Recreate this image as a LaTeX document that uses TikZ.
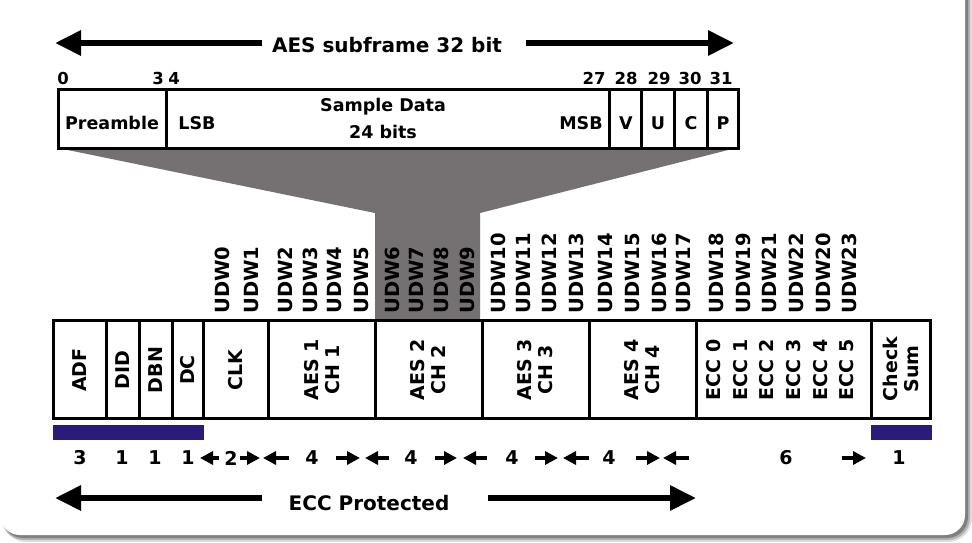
\documentclass[tikz,border=0pt]{standalone}
\usepackage{fontspec}
\setmainfont{DejaVu Sans}
\usetikzlibrary{arrows.meta}
\definecolor{funnel}{RGB}{117,112,113}
\definecolor{barblue}{RGB}{42,28,122}
\begin{document}
\begin{tikzpicture}[x=1pt,y=-1pt,
  cell/.style={draw=black,line width=3pt},
  big/.style={line width=6pt,-{Triangle[length=26pt,width=24pt]}},
  dimarrow/.style={line width=3.5pt,-{Triangle[length=13pt,width=13pt]}},
  title/.style={font=\fontsize{20}{22}\selectfont\bfseries,inner sep=0pt},
  bitlbl/.style={font=\fontsize{16.5}{18}\selectfont\bfseries,inner sep=0pt},
  toplbl/.style={font=\fontsize{17.5}{20}\selectfont\bfseries,inner sep=0pt},
  udw/.style={font=\fontsize{19.5}{21}\selectfont\bfseries,inner sep=0pt,rotate=90,anchor=west},
  rlbl/.style={font=\fontsize{19}{21}\selectfont\bfseries,inner sep=0pt,rotate=90,align=center},
  numlbl/.style={font=\fontsize{19}{21}\selectfont\bfseries,inner sep=0pt}]
\useasboundingbox (0,0) rectangle (972,542);
% card with shadow
\fill[white] (0,0) rectangle (972,542);
\fill[black!12,rounded corners=24pt] (2,-40) rectangle (972,542);
\fill[black!30,rounded corners=22pt] (2,-40) rectangle (970,540);
\fill[black!50,rounded corners=21pt] (2,-40) rectangle (968,538);
\fill[white,rounded corners=20pt] (0,-40) rectangle (965,535);

% funnel
\fill[funnel] (58,148) -- (736,148) -- (480,213) -- (480,320) -- (375,320) -- (375,213) -- cycle;

% top title arrow
\node[title] (t1) at (387,45) {AES subframe 32 bit};
\coordinate (t1l) at (262,43); \coordinate (t1lt) at (55,43);
\coordinate (t1r) at (526,43); \coordinate (t1rt) at (734,43);
\draw[big] (t1l) -- (t1lt);
\draw[big] (t1r) -- (t1rt);

% bit numbers
\node[bitlbl] (b0) at (63,78) {0};
\node[bitlbl] (b3) at (158,78) {3};
\node[bitlbl] (b4) at (174,78) {4};
\node[bitlbl] (b27) at (594,78) {27};
\node[bitlbl] (b28) at (626,78) {28};
\node[bitlbl] (b29) at (659,78) {29};
\node[bitlbl] (b30) at (690,78) {30};
\node[bitlbl] (b31) at (721,78) {31};

% top box
\draw[cell] (58,89) rectangle (738,148);
\foreach \x in {166,609,641,674,707} \draw[cell] (\x,89) -- (\x,148);
\node[toplbl] (pre) at (112,123) {Preamble};
\node[toplbl] (lsb) at (197,123) {LSB};
\node[toplbl] (sd1) at (383,107) {Sample Data};
\node[toplbl] (sd2) at (383,132) {24 bits};
\node[toplbl] (msb) at (581,123) {MSB};
\node[toplbl] (v) at (626,123) {V};
\node[toplbl] (u) at (658,123) {U};
\node[toplbl] (c) at (691,123) {C};
\node[toplbl] (p) at (723,123) {P};

% UDW labels
\foreach \x/\t [count=\i] in {222/UDW0,252/UDW1,285/UDW2,310/UDW3,335/UDW4,362/UDW5,392/UDW6,417/UDW7,441/UDW8,467/UDW9,498/UDW10,524/UDW11,549/UDW12,576/UDW13,606/UDW14,633/UDW15,659/UDW16,684/UDW17,716/UDW18,743/UDW19,769/UDW21,796/UDW22,823/UDW20,849/UDW23}
  \node[udw] (udw\i) at (\x,314) {\t};

% lower box
\draw[cell] (53,320) rectangle (930,418);
\foreach \x in {106,139,172,203,268,375,482,589,696,871} \draw[cell] (\x,320) -- (\x,418);
\node[rlbl] (adf) at (80,370) {ADF};
\node[rlbl] (did) at (122.5,370) {DID};
\node[rlbl] (dbn) at (155.5,370) {DBN};
\node[rlbl] (dc) at (188,370) {DC};
\node[rlbl] (clk) at (235.5,370) {CLK};
\node[rlbl] (aes1) at (322,370) {AES 1\\CH 1};
\node[rlbl] (aes2) at (428.5,370) {AES 2\\CH 2};
\node[rlbl] (aes3) at (535.5,370) {AES 3\\CH 3};
\node[rlbl] (aes4) at (642.5,370) {AES 4\\CH 4};
\foreach \x/\t [count=\i] in {714/ECC 0,741/ECC 1,767/ECC 2,794/ECC 3,821/ECC 4,847/ECC 5}
  \node[rlbl] (ecc\i) at (\x,370) {\t};
\node[rlbl] (cs) at (900.5,369) {Check\\Sum};

% blue bars
\fill[barblue] (53,425) rectangle (204,440);
\fill[barblue] (871,425) rectangle (932,440);

% counts
\node[numlbl] (n1) at (80,458) {3};
\node[numlbl] (n2) at (122,458) {1};
\node[numlbl] (n3) at (155,458) {1};
\node[numlbl] (n4) at (188,458) {1};
\node[numlbl] (n5) at (231,458) {2};
\node[numlbl] (n6) at (312,458) {4};
\node[numlbl] (n7) at (411,458) {4};
\node[numlbl] (n8) at (512,458) {4};
\node[numlbl] (n9) at (609,458) {4};
\node[numlbl] (n10) at (786,458) {6};
\node[numlbl] (n11) at (899,458) {1};
\foreach \a/\b [count=\i] in {219/200,289/263,389/365,487/463,589/563,689/663,240/260,336/360,435/457,535/558,636/660,842/866}{
  \coordinate (da\i) at (\a,458);
  \coordinate (db\i) at (\b,458);
  \draw[dimarrow] (da\i) -- (db\i);
}

% bottom arrow
\node[title] (t2) at (369,503) {ECC Protected};
\coordinate (t2l) at (262,498); \coordinate (t2lt) at (55,498);
\coordinate (t2r) at (488,498); \coordinate (t2rt) at (696,498);
\draw[big] (t2l) -- (t2lt);
\draw[big] (t2r) -- (t2rt);
\end{tikzpicture}
\end{document}
